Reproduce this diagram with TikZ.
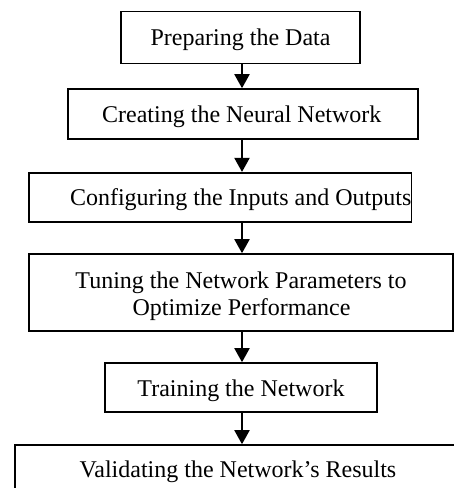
\documentclass[tikz,border=0pt]{standalone}
\usepackage{fontspec}
\setmainfont{Liberation Serif}
\usetikzlibrary{arrows.meta}
\begin{document}
\begin{tikzpicture}[x=1pt,y=-1pt,
  stepbox/.style={draw=black,line width=1.6pt,inner sep=0pt,fill=none},
  lbl/.style={anchor=base,inner sep=0pt,font=\fontsize{24}{27.5}\selectfont},
  arr/.style={line width=2pt,-{Triangle[width=15pt,length=14pt]}}]
\useasboundingbox (0,0) rectangle (454,488);
\clip (0,0) rectangle (454,488);
\coordinate (ax) at (242,0);
% boxes
\node[stepbox,minimum width=239pt,minimum height=52pt] (b1) at (240.3,37.5) {};
\node[stepbox,minimum width=350pt,minimum height=50pt] (b2) at (242.7,114) {};
\node[stepbox,minimum width=382.5pt,minimum height=49.5pt] (b3) at (220.3,197.5) {};
\node[stepbox,minimum width=424pt,minimum height=77pt] (b4) at (241,292.5) {};
\node[stepbox,minimum width=272pt,minimum height=49pt] (b5) at (241,387.5) {};
\node[stepbox,minimum width=460pt,minimum height=50pt] (b6) at (245,470) {};
% texts
\node[lbl] (t1) at (240.5,45.5) {Preparing the Data};
\node[lbl] (t2) at (241.8,122) {Creating the Neural Network};
\node[lbl] (t3) at (240.7,205) {Configuring the Inputs and Outputs};
\node[lbl] (t4a) at (241,288) {Tuning the Network Parameters to};
\node[lbl] (t4b) at (241.5,315.5) {Optimize Performance};
\node[lbl] (t5) at (241,396) {Training the Network};
\node[lbl] (t6) at (238,477) {Validating the Network’s Results};
% arrows
\draw[arr] (b1.south -| ax) -- (b2.north -| ax);
\draw[arr] (b2.south -| ax) -- (b3.north -| ax);
\draw[arr] (b3.south -| ax) -- (b4.north -| ax);
\draw[arr] (b4.south -| ax) -- (b5.north -| ax);
\draw[arr] (b5.south -| ax) -- (b6.north -| ax);
\end{tikzpicture}
\end{document}
